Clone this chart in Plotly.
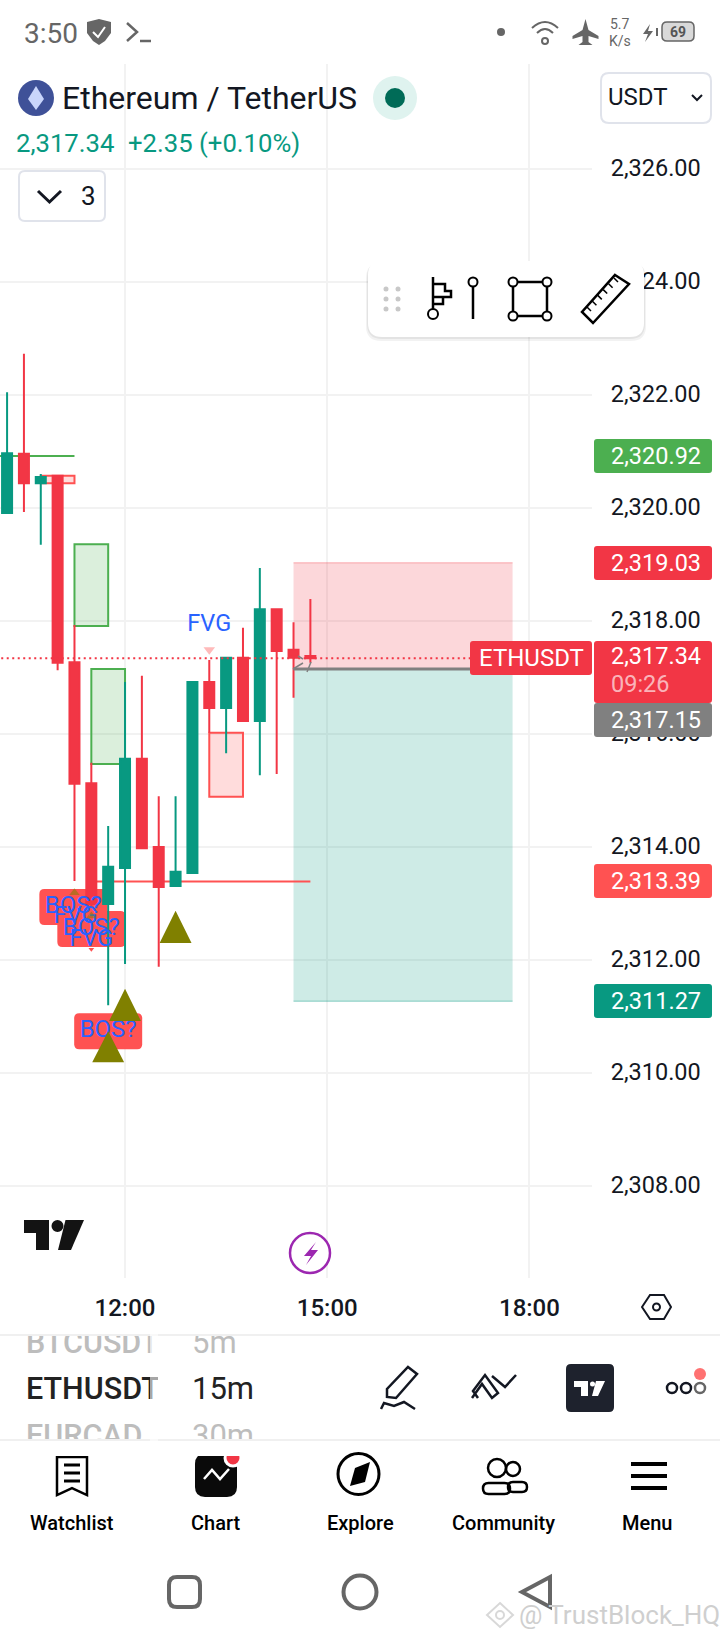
import plotly.graph_objects as go

# ETHUSDT 15m candles
times = ["2024-01-01 10:15", "2024-01-01 10:30", "2024-01-01 10:45", "2024-01-01 11:00", "2024-01-01 11:15",
         "2024-01-01 11:30", "2024-01-01 11:45", "2024-01-01 12:00", "2024-01-01 12:15", "2024-01-01 12:30",
         "2024-01-01 12:45", "2024-01-01 13:00", "2024-01-01 13:15", "2024-01-01 13:30", "2024-01-01 13:45",
         "2024-01-01 14:00", "2024-01-01 14:15", "2024-01-01 14:30", "2024-01-01 14:45"]
opens = [2319.91, 2320.96, 2320.44, 2320.57, 2317.27, 2315.13, 2312.99, 2313.63, 2315.56, 2314.00,
         2313.31, 2313.54, 2316.92, 2316.46, 2317.35, 2316.23, 2318.21, 2317.49, 2317.38]
highs = [2322.05, 2322.73, 2320.60, 2320.57, 2317.93, 2315.49, 2314.37, 2316.92, 2317.03, 2314.90,
         2314.90, 2316.92, 2317.31, 2317.35, 2317.88, 2318.94, 2318.21, 2317.98, 2318.39]
lows = [2319.91, 2319.93, 2319.35, 2317.13, 2313.40, 2312.95, 2311.20, 2311.93, 2313.98, 2311.88,
        2313.31, 2313.54, 2316.02, 2315.66, 2316.23, 2315.27, 2315.29, 2316.64, 2317.26]
closes = [2320.97, 2320.44, 2320.55, 2317.26, 2315.12, 2312.99, 2313.65, 2315.56, 2313.98, 2313.29,
          2313.56, 2316.92, 2316.46, 2317.35, 2316.23, 2318.21, 2317.47, 2317.35, 2317.34]

price_ticks = [2326, 2324, 2322, 2320, 2318, 2316, 2314, 2312, 2310, 2308]
price_tick_labels = ["2,326.00", "2,324.00", "2,322.00", "2,320.00", "2,318.00", "2,316.00", "2,314.00",
                     "2,312.00", "2,310.00", "2,308.00"]
time_ticks = ["2024-01-01 12:00", "2024-01-01 15:00", "2024-01-01 18:00"]
time_labels = ["12:00", "15:00", "18:00"]

# indicator boxes: start, end, top, bottom
green_boxes = [("2024-01-01 11:15", "2024-01-01 11:45", 2319.36, 2317.91),
               ("2024-01-01 11:30", "2024-01-01 12:00", 2317.15, 2315.47)]
red_boxes = [("2024-01-01 10:45", "2024-01-01 11:15", 2320.57, 2320.44),
             ("2024-01-01 13:15", "2024-01-01 13:45", 2316.02, 2314.89)]
pos_start, pos_end = "2024-01-01 14:30", "2024-01-01 17:45"
stop_price, entry_price, target_price = 2319.03, 2317.15, 2311.27
last_price = 2317.34
support_price = 2313.39
green_level = 2320.92

bos_times = ["2024-01-01 11:14", "2024-01-01 11:30", "2024-01-01 11:45"]
bos_prices = [2312.94, 2312.55, 2310.74]
fvg_times = ["2024-01-01 11:16", "2024-01-01 11:30", "2024-01-01 13:15"]
fvg_prices = [2312.76, 2312.35, 2317.93]
big_tri_times = ["2024-01-01 12:45", "2024-01-01 12:00", "2024-01-01 11:45"]
big_tri_tops = [2312.87, 2311.49, 2310.74]
big_tri_bottoms = [2312.30, 2310.92, 2310.19]

W, H = 720, 1640
PLOT_R, PLOT_T, PLOT_B = 592, 64, 1278
UP, DOWN = "#089981", "#f23645"
LABEL_RED = "#ff5252"
BLUE = "#2962ff"
OLIVE = "#808000"
INK = "#131722"
GREY = "#666666"
FONT = "Roboto"


def X(x):
    return x / W


def Y(y):
    return 1 - y / H


def line(pts, color=INK, width=2.5, fill=None, close=False, layer="above"):
    d = "M" + " L".join(f"{X(a):.5f},{Y(b):.5f}" for a, b in pts) + (" Z" if close else "")
    return dict(type="path", xref="paper", yref="paper", path=d, layer=layer, fillcolor=fill or "rgba(0,0,0,0)",
                line=dict(color=color, width=width))


def round_rect(x0, y0, x1, y1, r, fill="rgba(0,0,0,0)", color="rgba(0,0,0,0)", width=0, layer="above"):
    d = (f"M{X(x0 + r):.5f},{Y(y0):.5f} L{X(x1 - r):.5f},{Y(y0):.5f} Q{X(x1):.5f},{Y(y0):.5f} {X(x1):.5f},{Y(y0 + r):.5f} "
         f"L{X(x1):.5f},{Y(y1 - r):.5f} Q{X(x1):.5f},{Y(y1):.5f} {X(x1 - r):.5f},{Y(y1):.5f} "
         f"L{X(x0 + r):.5f},{Y(y1):.5f} Q{X(x0):.5f},{Y(y1):.5f} {X(x0):.5f},{Y(y1 - r):.5f} "
         f"L{X(x0):.5f},{Y(y0 + r):.5f} Q{X(x0):.5f},{Y(y0):.5f} {X(x0 + r):.5f},{Y(y0):.5f} Z")
    return dict(type="path", xref="paper", yref="paper", path=d, layer=layer, fillcolor=fill,
                line=dict(color=color, width=width))


def circle(cx, cy, rx, fill="rgba(0,0,0,0)", color="rgba(0,0,0,0)", width=0, ry=None):
    ry = ry or rx
    return dict(type="circle", xref="paper", yref="paper", x0=X(cx - rx), x1=X(cx + rx), y0=Y(cy + ry), y1=Y(cy - ry),
                layer="above", fillcolor=fill, line=dict(color=color, width=width))


def txt(x, y, s, size, color=INK, anchor="left", weight=400):
    return dict(x=X(x), y=Y(y), xref="paper", yref="paper", text=s, showarrow=False, xanchor=anchor, yanchor="middle",
                font=dict(family=FONT, size=size, color=color, weight=weight), borderpad=0, borderwidth=0)


def cover(x0, y0, x1, y1, color="#ffffff"):
    return dict(x=X(x0), y=Y(y0), xref="paper", yref="paper", text="&nbsp;", showarrow=False, xanchor="left", yanchor="top",
                width=x1 - x0, height=y1 - y0, bgcolor=color, font=dict(size=1), borderpad=0, borderwidth=0)


fig = go.Figure()

# big triangles are filled polygons so they keep the same proportions as the reference
half_bar = 14.2
tri_x, tri_y = [], []
for t, top, bot in zip(big_tri_times, big_tri_tops, big_tri_bottoms):
    hh, mm = t[11:].split(":")
    mins = int(hh) * 60 + int(mm)
    left = mins - half_bar
    right = mins + half_bar
    fmt = lambda m: f"2024-01-01 {int(m // 60):02d}:{int(m % 60):02d}:{int(m * 60 % 60):02d}"
    tri_x += [fmt(left), t, fmt(right), fmt(left), None]
    tri_y += [bot, top, bot, bot, None]

fig.add_trace(go.Candlestick(x=times, open=opens, high=highs, low=lows, close=closes,
                             increasing=dict(line=dict(color=UP, width=2), fillcolor=UP),
                             decreasing=dict(line=dict(color=DOWN, width=2), fillcolor=DOWN),
                             whiskerwidth=0, hoverinfo="skip", showlegend=False))
fig.add_trace(go.Scatter(x=bos_times, y=bos_prices, mode="text", text=["BOS?"] * 3, textposition="middle center",
                         textfont=dict(family=FONT, size=24, color=BLUE), hoverinfo="skip", showlegend=False))
fig.add_trace(go.Scatter(x=fvg_times, y=fvg_prices, mode="text", text=["FVG"] * 3, textposition="middle center",
                         textfont=dict(family=FONT, size=23.5, color=BLUE), hoverinfo="skip", showlegend=False))
fig.add_trace(go.Scatter(x=tri_x, y=tri_y, mode="lines", fill="toself", fillcolor=OLIVE, line=dict(color=OLIVE, width=0),
                         hoverinfo="skip", showlegend=False))
fig.add_trace(go.Scatter(x=["2024-01-01 13:15"], y=[2317.49], mode="markers",
                         marker=dict(symbol="triangle-down", size=10, color="rgba(255,82,82,0.4)"), hoverinfo="skip",
                         showlegend=False))
fig.add_trace(go.Scatter(x=["2024-01-01 11:30"], y=[2312.19], mode="markers",
                         marker=dict(symbol="triangle-down", size=5, color=LABEL_RED), hoverinfo="skip",
                         showlegend=False))
fig.add_trace(go.Scatter(x=["2024-01-01 11:15", "2024-01-01 11:30"], y=[2313.19, 2312.78], mode="markers",
                         marker=dict(symbol="triangle-up", size=9, color="rgba(128,128,0,0.55)"), hoverinfo="skip",
                         showlegend=False))

shapes = []


def data_rect(x0, x1, top, bot, fill, color, width, layer="between"):
    return dict(type="rect", xref="x", yref="y", x0=x0, x1=x1, y0=bot, y1=top, fillcolor=fill, layer=layer,
                line=dict(color=color, width=width))


def data_line(x0, x1, y, color, width, dash="solid", layer="between"):
    return dict(type="line", xref="x", yref="y", x0=x0, x1=x1, y0=y, y1=y, layer=layer,
                line=dict(color=color, width=width, dash=dash))


shapes.append(data_rect(pos_start, pos_end, stop_price, entry_price, "rgba(242,54,69,0.2)", "rgba(0,0,0,0)", 0))
shapes.append(data_rect(pos_start, pos_end, entry_price, target_price, "rgba(8,153,129,0.2)", "rgba(0,0,0,0)", 0))
shapes.append(data_line(pos_start, pos_end, stop_price, "rgba(242,54,69,0.25)", 1.5))
shapes.append(data_line(pos_start, pos_end, target_price, "rgba(8,153,129,0.3)", 1.5))
for x0, x1, top, bot in green_boxes:
    shapes.append(data_rect(x0, x1, top, bot, "rgba(76,175,80,0.2)", "#4caf50", 2))
for x0, x1, top, bot in red_boxes:
    shapes.append(data_rect(x0, x1, top, bot, "rgba(255,82,82,0.2)", LABEL_RED, 2))
shapes.append(data_line("2024-01-01 10:00", "2024-01-01 11:15", green_level, "#4caf50", 2))
shapes.append(data_line("2024-01-01 11:30", "2024-01-01 14:45", support_price, LABEL_RED, 2))

# BOS? labels, rounded boxes anchored at their data position and sized in pixels
bos_path = "M-29,18 L29,18 Q34,18 34,13 L34,-13 Q34,-18 29,-18 L-29,-18 Q-34,-18 -34,-13 L-34,13 Q-34,18 -29,18 Z"
for t, p in zip(bos_times, bos_prices):
    shapes.append(dict(type="path", xref="x", yref="y", xsizemode="pixel", ysizemode="pixel", xanchor=t, yanchor=p,
                       path=bos_path, fillcolor=LABEL_RED, line=dict(width=0), layer="between"))

shapes.append(data_line(pos_start, pos_end, entry_price, "#808080", 3, layer="above"))
shapes.append(data_line("2024-01-01 10:00", "2024-01-01 17:10", last_price, DOWN, 2, dash="2px,3.5px", layer="above"))
shapes += [line([(293, 669), (303, 663)], "#808080", 1.5, layer="above"),
           line([(307, 672), (311, 662)], "#808080", 1.5, layer="above"),
           line([(298, 656), (303, 659)], "#808080", 1.5, layer="above")]

# header
shapes += [
    line([(87, 22), (99, 19), (111, 22), (111, 33), (105, 41), (99, 45), (93, 41), (87, 33)], GREY, 0, fill=GREY, close=True),
    line([(93, 32), (98, 37), (105, 27)], "#ffffff", 2),
    line([(127, 23), (137, 32), (127, 41)], GREY, 2.5), line([(140, 41), (151, 41)], GREY, 2.5),
    circle(501, 32, 4, fill=GREY),
    dict(type="path", xref="paper", yref="paper", layer="above", fillcolor="rgba(0,0,0,0)", line=dict(color=GREY, width=2),
         path=f"M{X(532)},{Y(28)} Q{X(545)},{Y(16)} {X(558)},{Y(28)}"),
    dict(type="path", xref="paper", yref="paper", layer="above", fillcolor="rgba(0,0,0,0)", line=dict(color=GREY, width=2),
         path=f"M{X(537)},{Y(33)} Q{X(545)},{Y(25)} {X(553)},{Y(33)}"),
    circle(545, 41, 3, color=GREY, width=2),
    line([(585.5, 19), (588.5, 30), (598.5, 36), (598.5, 39), (588.5, 36), (588.5, 42), (592.5, 45), (578.5, 45), (582.5, 42),
          (582.5, 36), (572.5, 39), (572.5, 36), (582.5, 30)], GREY, 0, fill=GREY, close=True),
    line([(650, 24), (643, 34), (648, 34), (645, 42), (653, 31), (648, 31)], GREY, 0, fill=GREY, close=True),
    line([(657, 28), (657, 36)], GREY, 2),
    round_rect(662, 22, 694, 41, 5, fill="#d9d9d9", color=GREY, width=1.5),
]
# symbol row
shapes += [
    circle(36, 98, 18, fill="#3f5198"),
    line([(36, 86), (44, 99), (36, 110), (28, 99)], "#dfe6fb", 0, fill="#c9d5fb", close=True),
    circle(395, 98, 22, fill="#dff3ef"),
    circle(395, 98, 10, fill="#006b57"),
    round_rect(601, 73, 711, 123, 8, fill="#ffffff", color="#e0e3eb", width=2),
    line([(692, 95), (697, 100), (702, 95)], INK, 2),
    round_rect(19, 171, 105, 221, 6, fill="#ffffff", color="#e0e3eb", width=2),
    line([(38, 191), (49.5, 202), (61, 191)], INK, 3),
]
# floating drawing toolbar
shapes += [round_rect(366, 263, 646, 341, 15, fill="rgba(0,0,0,0.05)"),
           round_rect(367, 262, 645, 339, 15, fill="rgba(0,0,0,0.06)"),
           round_rect(368, 261, 644, 337, 14, fill="#ffffff")]
for dx in [386, 398]:
    for dy in [289, 299, 309]:
        shapes.append(circle(dx, dy, 2.5, fill="#c8c8c8"))
shapes += [
    line([(433, 277), (433, 309)], "#000000", 2.5), circle(433, 314, 5, fill="#ffffff", color="#000000", width=2),
    line([(433, 284), (445, 284), (445, 291), (451, 291), (451, 297), (445, 297), (433, 297)], "#000000", 2.5),
    line([(433, 304), (443, 304), (443, 297)], "#000000", 2.5),
    circle(473, 282, 4.5, fill="#ffffff", color="#000000", width=2), line([(473, 287), (473, 319)], "#000000", 2.5),
    line([(513, 282), (547, 282), (547, 316), (513, 316)], "#000000", 2.5, close=True),
    circle(513, 282, 4.5, fill="#ffffff", color="#000000", width=2), circle(547, 282, 4.5, fill="#ffffff", color="#000000", width=2),
    circle(513, 316, 4.5, fill="#ffffff", color="#000000", width=2), circle(547, 316, 4.5, fill="#ffffff", color="#000000", width=2),
    line([(615, 275), (629, 284), (593, 323), (582, 312)], "#000000", 2.5, close=True),
]
for k in range(6):
    a = 587 + k * 5.4
    b = 307 - k * 5.8
    shapes.append(line([(a, b), (a + 4, b + 4)], "#000000", 1.5))

# price scale labels
for top, bot, col in [(439, 473, "#4caf50"), (546, 580, DOWN), (864, 898, LABEL_RED), (984, 1018, UP)]:
    shapes.append(round_rect(594, top, 712, bot, 3, fill=col))
shapes += [round_rect(470, 641, 592, 675, 3, fill=DOWN),
           round_rect(594, 703, 712, 737, 3, fill="#808080"),
           round_rect(594, 641, 712, 703, 3, fill=DOWN)]

# logos and footer chrome
shapes += [
    line([(24, 1220), (49, 1220), (49, 1250), (36, 1250), (36, 1233), (24, 1233)], "#131313", 0, fill="#131313", close=True),
    circle(57.5, 1226, 6, fill="#131313"),
    line([(65.5, 1220), (84, 1220), (71, 1250), (58, 1250)], "#131313", 0, fill="#131313", close=True),
    circle(310, 1253, 20, fill="#ffffff", color="#9c27b0", width=2.5),
    line([(316, 1242), (304, 1256), (311, 1256), (306, 1265), (318, 1250), (311, 1250)], "#9c27b0", 0, fill="#9c27b0", close=True),
    line([(642, 1307), (650, 1295), (664, 1295), (671, 1307), (664, 1319), (650, 1319)], INK, 2, close=True),
    circle(656.5, 1307, 3.5, color=INK, width=2),
    line([(0, 1335), (720, 1335)], "#f0f0f0", 2), line([(0, 1440), (720, 1440)], "#f0f0f0", 2),
    # pencil
    line([(408, 1367), (417, 1374), (396, 1398), (387, 1397), (387, 1389)], INK, 2.5, close=True),
    line([(381, 1409), (384, 1403), (394, 1406), (404, 1402), (415, 1409)], INK, 2.5),
    # two check marks
    line([(472, 1398), (482, 1384), (492, 1398), (498, 1393), (485, 1375), (473, 1391), (478, 1398)], INK, 2.5),
    line([(492, 1376), (505, 1387), (516, 1375)], INK, 2.5),
    round_rect(566, 1364, 614, 1412, 5, fill="#1e222d"),
    line([(574, 1381), (588, 1381), (588, 1396), (581, 1396), (581, 1387), (574, 1387)], "#ffffff", 0, fill="#ffffff", close=True),
    circle(592.5, 1384, 2.5, fill="#ffffff"),
    line([(596, 1381), (605, 1381), (598, 1396), (592, 1396)], "#ffffff", 0, fill="#ffffff", close=True),
    circle(672, 1388, 5, color=INK, width=2.5), circle(686, 1388, 5, color=INK, width=2.5), circle(700, 1388, 5, color=GREY, width=2.5),
    circle(700, 1374, 6, fill="#ff7272"),
    # watchlist
    line([(57, 1457), (87, 1457), (87, 1495), (72, 1488), (57, 1495)], "#000000", 2.5, close=True),
    line([(64, 1465), (80, 1465)], "#000000", 3), line([(64, 1473), (80, 1473)], "#000000", 3), line([(64, 1481), (80, 1481)], "#000000", 3),
    # chart
    round_rect(195, 1454, 237, 1497, 10, fill="#0a0a0a"),
    line([(204, 1479), (212, 1470), (220, 1479), (229, 1469)], "#ffffff", 2.5),
    circle(233, 1458, 9.5, fill="#ffffff"), circle(233, 1458, 6.5, fill=DOWN),
    # explore
    circle(358.5, 1474, 20.5, color="#000000", width=3),
    line([(370, 1462), (365, 1482), (350, 1486), (355, 1468)], "#000000", 0, fill="#000000", close=True),
    # community
    circle(497, 1468, 9, color="#000000", width=2.5), circle(513, 1469, 7, color="#000000", width=2.5),
    round_rect(483, 1483, 510, 1494, 5.5, color="#000000", width=2.5), round_rect(508, 1482, 527, 1492, 5, color="#000000", width=2.5),
    # menu
    line([(631, 1464), (667, 1464)], "#000000", 4), line([(631, 1476), (667, 1476)], "#000000", 4), line([(631, 1488), (667, 1488)], "#000000", 4),
    # android nav
    round_rect(169, 1577, 200, 1607, 8, color=GREY, width=4),
    circle(360, 1592, 16.5, color=GREY, width=4),
    line([(550, 1577), (550, 1607), (522, 1592)], GREY, 4, close=True),
    line([(500, 1603), (513, 1615), (500, 1627), (487, 1615)], "#d8d8d8", 2, close=True),
    circle(500, 1615, 4, color="#d8d8d8", width=2),
]

notes = [
    txt(24, 33, "3:50", 28, GREY),
    txt(620, 24, "5.7", 14, GREY, "center"), txt(620, 41, "K/s", 14, GREY, "center"),
    txt(678, 32, "69", 14, "#555555", "center", 700),
    txt(62, 98, "Ethereum / TetherUS", 32),
    txt(608, 97, "USDT", 24),
    txt(16, 143, "2,317.34", 25.7, UP), txt(128, 143, "+2.35 (+0.10%)", 25.7, UP),
    txt(88, 196, "3", 26, INK, "center"),
    txt(611, 456, "2,320.92", 23.5, "#ffffff"), txt(611, 563, "2,319.03", 23.5, "#ffffff"),
    txt(531, 658, "ETHUSDT", 24, "#ffffff", "center"), txt(611, 656, "2,317.34", 23.5, "#ffffff"),
    txt(611, 684, "09:26", 23.5, "rgba(255,255,255,0.65)"), txt(611, 720, "2,317.15", 23.5, "#ffffff"),
    txt(611, 881, "2,313.39", 23.5, "#ffffff"), txt(611, 1001, "2,311.27", 23.5, "#ffffff"),
    # symbol picker with its clipped neighbours
    txt(26, 1342, "BTCUSDT", 30.5, "#bdbdbd", weight=500), txt(192, 1342, "5m", 31, "#bdbdbd"),
    txt(26, 1388, "ETHUSDT", 30.5, "#222222", weight=500), txt(192, 1388, "15m", 31, "#222222"),
    txt(26, 1435, "EURCAD", 30.5, "#bdbdbd", weight=500), txt(192, 1435, "30m", 31, "#bdbdbd"),
    cover(0, 1321, 300, 1334), cover(0, 1334, 300, 1336, "#f0f0f0"),
    cover(0, 1439, 300, 1441, "#f0f0f0"), cover(0, 1441, 300, 1456),
    cover(150, 1330, 158, 1450, "rgba(255,255,255,0.6)"), cover(158, 1336, 185, 1439),
    txt(72, 1523, "Watchlist", 20, "#000000", "center", 500), txt(216, 1523, "Chart", 20, "#000000", "center", 500),
    txt(360, 1523, "Explore", 20, "#000000", "center", 500), txt(504, 1523, "Community", 20, "#000000", "center", 500),
    txt(647, 1523, "Menu", 20, "#000000", "center", 500),
    txt(519, 1615, "@ TrustBlock_HQ", 26, "#cfcfcf"),
]

fig.update_layout(
    width=W, height=H, margin=dict(l=0, r=0, t=0, b=0), paper_bgcolor="#ffffff", plot_bgcolor="#ffffff",
    showlegend=False, boxgap=0.4, boxgroupgap=0.01, shapes=shapes, annotations=notes, hovermode=False,
    xaxis=dict(domain=[0, PLOT_R / W], range=["2024-01-01 10:08:42", "2024-01-01 18:55:42"], type="date",
               rangeslider=dict(visible=False), tickvals=time_ticks, ticktext=time_labels, ticks="outside", ticklen=8,
               tickcolor="rgba(0,0,0,0)", showgrid=True, gridcolor="#f2f2f2", gridwidth=1.5, zeroline=False,
               showline=False, tickfont=dict(family=FONT, size=24, color=INK, weight=500), anchor="y"),
    yaxis=dict(domain=[1 - PLOT_B / H, 1 - PLOT_T / H], range=[2306.372, 2327.858], side="right", tickvals=price_ticks,
               ticktext=price_tick_labels, ticks="outside", ticklen=13, tickcolor="rgba(0,0,0,0)", showgrid=True,
               gridcolor="#f2f2f2", gridwidth=1.5, zeroline=False, showline=False, ticklabelshift=-1,
               tickfont=dict(family=FONT, size=23.5, color=INK), anchor="x"),
)

fig.write_html("out.html", config={"displayModeBar": False}, post_script="document.body.style.margin='0';")
